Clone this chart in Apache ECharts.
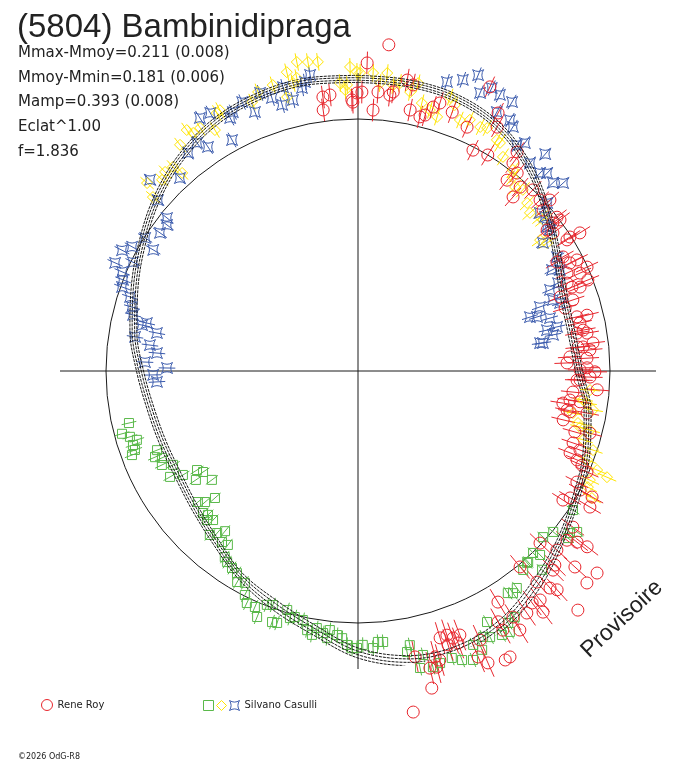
<!DOCTYPE html>
<html><head><meta charset="utf-8">
<script src="https://cdn.jsdelivr.net/npm/echarts/dist/echarts.min.js"></script>
<style>html,body{margin:0;padding:0;background:#fff}#c{width:688px;height:768px}</style>
</head><body><div id="c"></div>
<script>
// ---- texts ----
const titleText = '(5804) Bambinidipraga';
const statLines = ['Mmax-Mmoy=0.211 (0.008)', 'Mmoy-Mmin=0.181 (0.006)', 'Mamp=0.393 (0.008)', 'Eclat^1.00', 'f=1.836'];
const copyrightText = '\u00a92026 OdG-R8';
const stampText = 'Provisoire';

// ---- fitted light curve (phase in degrees, radius relative to reference circle = 1) ----
const fitPhase = [0,10,20,30,40,50,60,70,80,90,100,110,120,130,140,150,160,170,180,190,200,210,220,230,240,250,260,270,280,290,300,310,320,330,340,350,360];
const fitOuter = [1.173,1.173,1.165,1.133,1.070,0.994,0.927,0.883,0.875,0.891,0.939,0.978,1.014,1.062,1.123,1.175,1.199,1.187,1.139,1.060,1.004,0.951,0.895,0.859,0.839,0.839,0.851,0.879,0.919,0.958,1.006,1.062,1.113,1.153,1.173,1.181,1.173];
const fitUpper = [1.164,1.164,1.156,1.124,1.061,0.985,0.918,0.874,0.866,0.882,0.930,0.969,1.005,1.053,1.110,1.162,1.186,1.174,1.126,1.047,0.991,0.942,0.886,0.850,0.830,0.830,0.842,0.870,0.910,0.949,0.997,1.053,1.104,1.144,1.164,1.172,1.164];
const fitLower = [1.154,1.154,1.146,1.114,1.051,0.975,0.908,0.864,0.856,0.872,0.920,0.959,0.995,1.043,1.096,1.148,1.172,1.160,1.112,1.033,0.977,0.932,0.876,0.840,0.820,0.820,0.832,0.860,0.900,0.939,0.987,1.043,1.094,1.134,1.154,1.162,1.154];
const fitInner = [1.145,1.145,1.137,1.105,1.042,0.966,0.899,0.855,0.847,0.863,0.911,0.950,0.986,1.034,1.083,1.135,1.159,1.147,1.099,1.020,0.964,0.923,0.867,0.831,0.811,0.811,0.823,0.851,0.891,0.930,0.978,1.034,1.085,1.125,1.145,1.153,1.145];

// ---- observations: [phase deg, radius, error] ----
const reneRoy = [
[5.4,1.300,0],[1.7,1.223,0.045],[0.8,1.107,0.045],[358.9,1.067,0.045],[3.3,1.037,0.045],[4.1,1.110,0.045],[6.6,1.102,0.045],[7.2,1.116,0.045],[9.6,1.171,0.045],[10.9,1.156,0.045],
[13.7,1.038,0.045],[14.7,1.050,0.045],[15.9,1.089,0.045],[17.0,1.112,0.045],[24.1,1.060,0.045],[27.5,0.988,0.045],[31.0,1.000,0.048],[24.9,1.243,0.045],[28.5,1.165,0.045],[352.7,1.096,0.045],
[354.2,1.101,0.045],[352.4,1.045,0.045],[358.7,1.076,0.045],[359.8,1.103,0.045],[11.3,1.056,0.045],[20.0,1.093,0.045],[36.7,1.029,0.048],[38.8,1.008,0.048],[38.0,0.961,0.048],[41.4,0.973,0.048],
[41.7,0.925,0.048],[44.0,0.999,0.048],[46.8,0.991,0.048],[48.3,1.020,0.048],[49.0,0.973,0.048],[52.3,0.998,0.048],[52.8,0.971,0.048],[29.7,1.114,0.045],[36.0,1.074,0.048],[53.3,0.936,0.048],
[53.2,1.001,0.048],[57.7,0.995,0.048],[54.7,0.948,0.048],[57.9,0.979,0.048],[58.1,1.037,0.048],[60.9,0.931,0.048],[63.1,0.974,0.048],[66.2,0.963,0.048],[65.6,0.998,0.048],[68.4,0.981,0.048],
[67.2,0.900,0.048],[69.9,0.854,0.048],[71.7,0.898,0.048],[76.3,0.935,0.048],[77.8,0.901,0.048],[80.2,0.882,0.048],[80.6,0.921,0.048],[83.2,0.939,0.048],[83.9,0.898,0.048],[86.2,0.843,0.048],
[86.8,0.910,0.048],[90.2,0.940,0.048],[89.7,0.881,0.048],[92.4,0.870,0.048],[94.5,0.952,0.048],[95.6,0.857,0.048],[97.9,0.890,0.048],[100.6,0.844,0.048],[103.4,0.837,0.048],[100.9,0.857,0.048],
[100.4,0.924,0.048],[108.5,0.900,0.048],[109.6,0.935,0.048],[112.1,0.938,0.048],[105.0,0.953,0.048],[113.8,0.993,0.05],[120.9,0.981,0.05],[120.4,1.067,0.05],[118.2,1.000,0.05],[126.0,1.054,0.055],
[128.0,1.103,0.055],[127.5,1.146,0.055],[129.0,1.067,0.055],[132.0,1.062,0.055],[133.4,0.994,0.055],[134.6,1.097,0.06],[132.1,1.160,0.06],[130.2,1.242,0],[132.8,1.238,0],[138.5,1.150,0.06],
[139.7,1.098,0.06],[140.4,1.009,0.06],[141.5,1.161,0.06],[143.1,1.151,0.06],[142.5,1.206,0.06],[137.4,1.289,0],[148.8,1.072,0.06],[145.1,1.171,0.06],[147.8,1.154,0.06],[150.8,1.140,0.06],
[150.8,1.178,0.06],[135.6,1.106,0.06],[137.7,1.174,0.06],[162.9,1.108,0.065],[161.4,1.106,0.065],[160.4,1.125,0.065],[158.9,1.123,0.065],[161.8,1.144,0.065],[159.8,1.150,0.065],[168.7,1.157,0.065],
[164.9,1.175,0.065],[164.2,1.192,0.065],[165.1,1.216,0.065],[166.4,1.213,0.065],[157.2,1.231,0.065],[156.0,1.268,0.06],[152.0,1.285,0],[153.0,1.287,0],[166.9,1.292,0],[170.8,1.371,0],
[148.0,1.212,0.06],[155.6,1.172,0.065],
[61.3,0.900,0.05],[63.0,0.944,0.05],[64.9,0.916,0.05],[68.6,0.912,0.05],[69.3,0.942,0.05],[73.1,0.859,0.05],[76.1,0.895,0.05],[79.7,0.908,0.05],[83.8,0.878,0.05],[84.8,0.924,0.05],
[87.8,0.830,0.05],[89.2,0.909,0.05],[92.3,0.882,0.05],[91.5,0.921,0.05],[97.8,0.849,0.05],[98.9,0.823,0.05],[105.7,0.894,0.05],[111.1,0.902,0.05],[112.8,0.964,0.05],[116.9,0.974,0.05],
[122.2,0.961,0.05],[118.3,1.055,0.05]
];
const casulliGreen = [
[257.2,0.932,0.03],[255.1,0.969,0.03],[253.9,0.942,0.03],[252.7,0.919,0.03],[251.8,0.940,0.03],[250.5,0.939,0.03],[249.6,0.957,0.03],[248.5,0.857,0.03],[247.0,0.875,0.03],[246.1,0.851,0.03],
[244.4,0.863,0.03],[243.1,0.823,0.03],[240.6,0.856,0.03],[239.3,0.808,0.03],[238.4,0.750,0.03],[236.9,0.734,0.03],[236.1,0.775,0.03],[233.3,0.723,0.03],[228.4,0.759,0.03],[229.4,0.799,0.03],
[230.7,0.821,0.03],[227.5,0.834,0.03],[226.2,0.825,0.03],[224.2,0.825,0.03],[225.4,0.842,0.03],[219.7,0.826,0.03],[221.0,0.852,0.03],[222.1,0.877,0.03],[218.5,0.867,0.03],[216.8,0.862,0.03],
[215.6,0.908,0.03],[214.4,0.919,0.03],[212.6,0.928,0.03],[210.9,0.935,0.03],[209.8,0.965,0.03],[208.1,0.953,0.03],[206.8,0.996,0.03],[205.6,1.021,0.03],[203.6,1.022,0.03],[202.3,1.055,0.03],
[201.3,0.996,0.03],[200.0,0.988,0.03],[198.9,1.053,0.03],[197.8,1.050,0.03],[196.5,0.989,0.03],[195.4,1.017,0.03],[194.4,1.008,0.03],[192.5,1.012,0.03],[191.1,1.048,0.03],[189.9,1.063,0.03],
[189.1,1.033,0.03],[187.6,1.049,0.03],[186.2,1.034,0.03],[186.6,1.067,0.03],[184.5,1.051,0.03],[183.4,1.062,0.03],[182.3,1.088,0.03],[181.2,1.100,0.03],[180.2,1.099,0.03],[179.0,1.087,0.03],
[176.9,1.101,0.03],[175.8,1.078,0.03],[174.7,1.080,0.03],[170.1,1.132,0.03],[169.3,1.107,0.03],[167.1,1.156,0.03],[168.2,1.204,0.03],[165.8,1.212,0.03],[164.3,1.204,0.03],[161.9,1.198,0.03],
[160.2,1.219,0.03],[158.3,1.234,0.03],[157.2,1.179,0.03],[156.0,1.211,0.03],[154.8,1.166,0.03],[153.6,1.179,0.03],[152.8,1.120,0.03],[151.4,1.193,0.03],[149.2,1.164,0.03],[149.8,1.198,0.03],
[147.5,1.158,0.03],[145.1,1.075,0.03],[143.8,1.067,0.03],[146.0,1.063,0.03],[140.3,1.026,0.03],[138.6,1.015,0.03],[137.2,1.075,0.03],[122.9,1.016,0.03],[129.5,1.004,0.03],[131.9,0.987,0.03],
[127.4,1.059,0.03],[126.3,1.079,0.03],[128.5,1.065,0.03],[136.1,1.002,0.03],[135.3,1.027,0.03],[138.3,1.015,0.03]
];
const casulliYellow = [
[311.7,1.121,0.035],[310.3,1.067,0.035],[314.3,1.086,0.035],[315.9,1.100,0.035],[317.8,1.093,0.035],[318.4,1.051,0.035],[321.8,1.142,0.035],[324.6,1.173,0.035],[325.3,1.149,0.035],[327.0,1.150,0.035],
[329.3,1.112,0.035],[331.3,1.167,0.035],[332.1,1.171,0.035],[338.5,1.147,0.035],[340.3,1.176,0.035],[343.4,1.184,0.035],[346.6,1.219,0.035],[348.8,1.250,0.035],[350.8,1.242,0.035],[352.6,1.237,0.035],
[356.4,1.145,0.035],[357.4,1.116,0.035],[345.5,1.123,0.035],[347.3,1.171,0.035],[348.2,1.188,0.035],[358.5,1.207,0.035],[359.8,1.187,0.035],[357.8,1.136,0.035],[0.4,1.183,0.035],[2.9,1.184,0.035],
[5.6,1.188,0.035],[4.4,1.146,0.035],[7.0,1.143,0.035],[8.3,1.155,0.035],[10.6,1.126,0.035],[13.4,1.093,0.035],[15.4,1.074,0.035],[17.3,1.056,0.035],[18.6,1.147,0.035],[20.0,1.123,0.035],
[22.1,1.075,0.035],[24.0,1.091,0.035],[26.6,1.083,0.035],[28.0,1.092,0.035],[31.0,1.070,0.035],[34.1,1.026,0.04],[38.6,0.985,0.04],[40.5,0.960,0.04],[45.2,0.946,0.04],[47.4,0.927,0.04],
[49.8,0.946,0.04],[11.8,1.167,0.035],[31.9,1.066,0.04],[37.6,1.007,0.04],[42.3,0.972,0.04],[54.3,0.890,0.04],[55.9,0.906,0.04],[50.8,0.948,0.04],[94.7,0.924,0.04],[97.3,0.900,0.04],
[99.4,0.945,0.04],[101.1,0.869,0.04],[98.0,0.917,0.04],[104.2,0.909,0.04],[104.3,0.950,0.04],[107.0,0.934,0.04],[108.6,0.984,0.04],[111.2,0.975,0.04],[112.5,1.027,0.04],[113.1,1.074,0.04],
[115.2,1.017,0.04],[118.5,1.056,0.04],[116.8,1.022,0.04],[103.3,0.897,0.04]
];
const casulliBlue = [
[308.7,0.971,0.033],[307.4,0.954,0.033],[304.9,0.958,0.033],[302.0,0.996,0.033],[298.8,1.023,0.033],[297.1,1.052,0.033],[300.6,0.944,0.033],[295.8,0.992,0.033],[294.0,1.055,0.033],[292.8,1.015,0.033],
[291.2,1.000,0.033],[289.6,0.994,0.033],[288.0,0.951,0.033],[285.8,0.932,0.033],[284.0,0.920,0.033],[282.0,0.876,0.033],[282.8,0.859,0.033],[280.7,0.812,0.033],[278.7,0.895,0.033],[277.1,0.832,0.033],
[275.1,0.801,0.033],[272.4,0.846,0.033],[270.9,0.758,0.033],[268.9,0.813,0.033],[266.9,0.799,0.033],[312.6,1.121,0.033],[310.5,1.044,0.033],[317.3,1.042,0.033],[322.1,1.097,0.033],[324.8,1.108,0.033],
[328.0,1.184,0.033],[326.2,1.070,0.033],[330.2,1.180,0.033],[331.4,1.044,0.033],[333.2,1.125,0.033],[334.2,1.141,0.033],[336.7,1.162,0.033],[338.3,1.106,0.033],[340.6,1.170,0.033],[342.5,1.136,0.033],
[344.1,1.098,0.033],[345.2,1.165,0.033],[346.5,1.106,0.033],[348.8,1.145,0.033],[350.8,1.190,0.033],[349.6,1.166,0.033],[17.1,1.200,0.033],[19.8,1.228,0.033],[22.1,1.267,0.033],[23.7,1.205,0.033],
[25.3,1.242,0.033],[27.2,1.232,0.033],[29.8,1.230,0.033],[28.2,1.166,0.033],[31.2,1.164,0.033],[32.4,1.147,0.033],[35.1,1.096,0.033],[36.2,1.121,0.033],[40.8,1.137,0.033],[39.6,1.071,0.033],
[42.6,1.067,0.033],[46.0,1.075,0.033],[47.5,1.104,0.033],[48.4,1.004,0.033],[50.5,0.962,0.033],[43.7,1.086,0.033],[49.0,0.956,0.033],[53.7,0.945,0.033],[52.7,0.943,0.033],[55.3,0.893,0.033],
[60.2,0.910,0.033],[63.4,0.896,0.033],[62.5,0.868,0.033],[67.1,0.827,0.033],[70.6,0.765,0.033],[73.2,0.742,0.033],[74.6,0.790,0.033],[77.8,0.767,0.033],[77.5,0.809,0.033],[79.5,0.787,0.033],
[81.3,0.731,0.033],[71.4,0.846,0.033],[66.3,0.867,0.033],[70.0,0.823,0.033],[72.6,0.715,0.033],[81.4,0.742,0.033]
];

// ---- styling ----
const RED = '#e8262d', GREEN = '#5ab94a', YELLOW = '#ffe500', BLUE = '#3b5bad';
const STAR = 'path://M0,0 Q5,3.2 10,0 Q6.8,5 10,10 Q5,6.8 0,10 Q3.2,5 0,0 Z';
const CLEAR = 'rgba(0,0,0,0)';

function toPolar(arr) { return arr.map(p => [p[1], p[0], p[2]]); }

function errSeries(arr, color) {
  return {
    type: 'custom', coordinateSystem: 'polar', polarIndex: 0, silent: true, clip: false,
    encode: { radius: 0, angle: 1 }, z: 2,
    data: toPolar(arr),
    renderItem: function (params, api) {
      const r = api.value(0), a = api.value(1), e = api.value(2);
      if (!e) return { type: 'group', children: [] };
      const p1 = api.coord([r - e, a]);
      const p2 = api.coord([r + e, a]);
      return { type: 'line', shape: { x1: p1[0], y1: p1[1], x2: p2[0], y2: p2[1] },
               style: { stroke: color, lineWidth: 1 } };
    }
  };
}
function pointSeries(name, arr, symbol, size, color) {
  return {
    name: name, type: 'scatter', coordinateSystem: 'polar', polarIndex: 0, clip: false,
    symbol: symbol, symbolSize: size, z: 3, silent: true,
    itemStyle: { color: CLEAR, borderColor: color, borderWidth: 1, opacity: 1 },
    data: toPolar(arr).map(p => [p[0], p[1]])
  };
}
function fitSeries(vals) {
  return {
    type: 'line', coordinateSystem: 'polar', polarIndex: 0, clip: false, silent: true,
    smooth: 0.35, symbol: 'none', z: 5,
    lineStyle: { color: '#1a1a1a', width: 1, type: [3, 1] },
    data: fitPhase.map((a, i) => [vals[i], a])
  };
}

const FONT = '"DejaVu Sans", sans-serif';
const chart = echarts.init(document.getElementById('c'), null, { renderer: 'canvas' });
chart.setOption({
  animation: false,
  backgroundColor: '#fff',
  polar: [
    { center: [358, 371], radius: 298 },
    { center: [358, 371], radius: 252 }
  ],
  angleAxis: [
    { polarIndex: 0, type: 'value', min: 0, max: 360, interval: 90, startAngle: 90, clockwise: true,
      axisLine: { show: false }, axisTick: { show: false }, axisLabel: { show: false },
      splitLine: { show: true, lineStyle: { color: '#1a1a1a', width: 1 } } },
    { polarIndex: 1, type: 'value', min: 0, max: 360, interval: 90, startAngle: 90, clockwise: true,
      axisLine: { show: true, lineStyle: { color: '#1a1a1a', width: 1 } }, axisTick: { show: false },
      axisLabel: { show: false }, splitLine: { show: false } }
  ],
  radiusAxis: [
    { polarIndex: 0, type: 'value', min: 0, max: 1.1825, axisLine: { show: false }, axisTick: { show: false },
      axisLabel: { show: false }, splitLine: { show: false } },
    { polarIndex: 1, type: 'value', min: 0, max: 1, axisLine: { show: false }, axisTick: { show: false },
      axisLabel: { show: false }, splitLine: { show: false } }
  ],
  legend: [
    { left: 36, top: 694, itemWidth: 11, itemHeight: 11, selectedMode: false,
      textStyle: { fontSize: 10, fontFamily: FONT, color: '#222' },
      data: [{ name: 'Rene Roy', icon: 'circle', itemStyle: { color: CLEAR, borderColor: RED, borderWidth: 1 } }] },
    { left: 198, top: 695, itemWidth: 10, itemHeight: 10, itemGap: 2, selectedMode: false,
      textStyle: { fontSize: 10, fontFamily: FONT, color: '#222' },
      formatter: n => (n === 'Silvano Casulli 3' ? 'Silvano Casulli' : ''),
      data: [
        { name: 'Silvano Casulli 1', icon: 'rect', itemStyle: { color: CLEAR, borderColor: GREEN, borderWidth: 1 } },
        { name: 'Silvano Casulli 2', icon: 'diamond', itemStyle: { color: CLEAR, borderColor: YELLOW, borderWidth: 1 } },
        { name: 'Silvano Casulli 3', icon: STAR, itemStyle: { color: CLEAR, borderColor: BLUE, borderWidth: 1 } }
      ] }
  ],
  graphic: [
    { type: 'text', left: 17, top: 11, style: { text: titleText, fontSize: 33, fontFamily: '"Liberation Sans", Arial, sans-serif', fill: '#222' } },
    { type: 'text', left: 18, top: 41, style: { text: statLines.join('\n'), fontSize: 15, lineHeight: 24.6, fontFamily: FONT, fill: '#222' } },
    { type: 'text', left: 18, top: 753, style: { text: copyrightText, fontSize: 8, fontFamily: FONT, fill: '#222' } },
    { type: 'text', x: 622, y: 619, rotation: 43 * Math.PI / 180,
      style: { text: stampText, fontSize: 23, fontFamily: '"Liberation Sans", Arial, sans-serif', fill: '#222', align: 'center', verticalAlign: 'middle' } }
  ],
  series: [
    errSeries(casulliGreen, GREEN),
    pointSeries('Silvano Casulli 1', casulliGreen, 'rect', 9, GREEN),
    errSeries(casulliYellow, YELLOW),
    pointSeries('Silvano Casulli 2', casulliYellow, 'diamond', 11, YELLOW),
    errSeries(casulliBlue, BLUE),
    pointSeries('Silvano Casulli 3', casulliBlue, STAR, 11, BLUE),
    errSeries(reneRoy, RED),
    pointSeries('Rene Roy', reneRoy, 'circle', 12, RED),
    fitSeries(fitOuter), fitSeries(fitUpper), fitSeries(fitLower), fitSeries(fitInner)
  ]
});
</script>
</body></html>
